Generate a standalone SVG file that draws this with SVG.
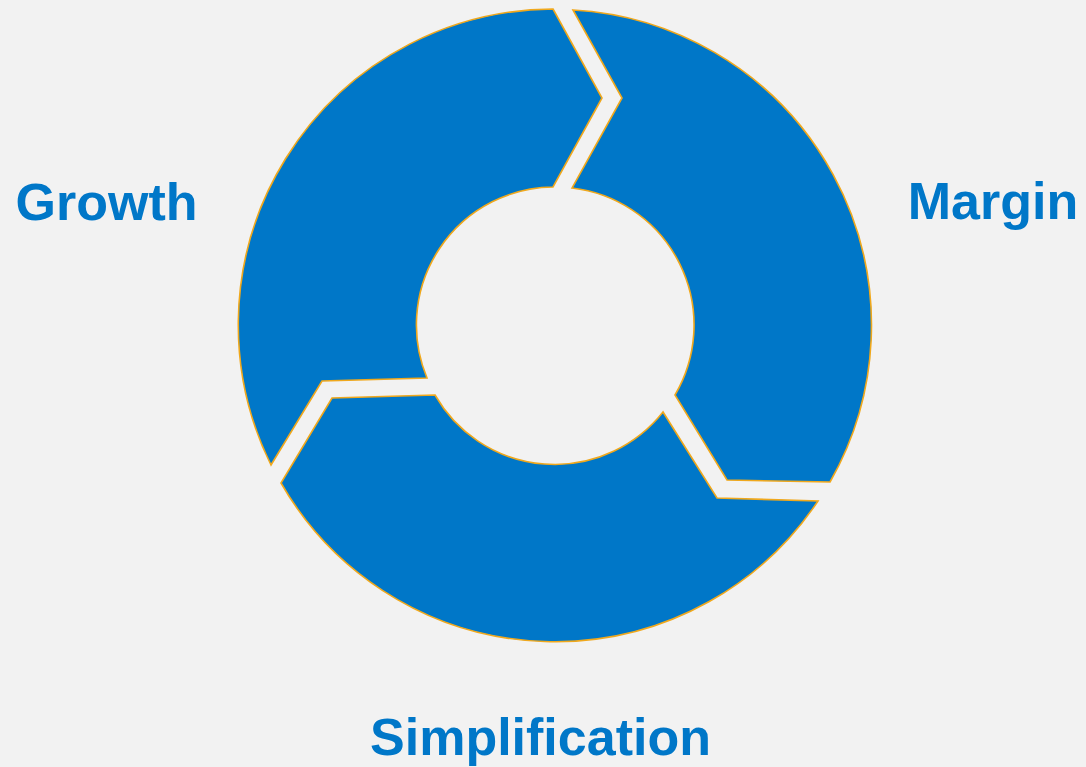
<svg xmlns="http://www.w3.org/2000/svg" width="1086" height="767" viewBox="0 0 1086 767">
<style>
.seg{fill:#0077C8;stroke:#F0A81C;stroke-width:1.6;stroke-linejoin:miter}
.lbl{font-family:"Liberation Sans",Arial,sans-serif;font-weight:bold;font-size:52px;fill:#0077C8;text-anchor:middle}
</style>
<rect width="1086" height="767" fill="#F2F2F2"/>
<g id="growth">
<path class="seg" d="M553,9 L602,98 L553,187 A138,138 0 0 0 427,378 L322,381 L271,465 A316,316 0 0 1 553,9 Z"/>
<text class="lbl" x="106.5" y="220">Growth</text>
</g>
<g id="margin">
<path class="seg" d="M573,10 L622,98 L572,188 A138,138 0 0 1 675,395 L727,480 L830,482 A316,316 0 0 0 573,10 Z"/>
<text class="lbl" x="993" y="219">Margin</text>
</g>
<g id="simplification">
<path class="seg" d="M435,395 L332,398 L281,483 A316,316 0 0 0 818,501 L717,498 L663,412 A138,138 0 0 1 435,395 Z"/>
<text class="lbl" x="540.5" y="755">Simplification</text>
</g>
<g id="connectors"/>
</svg>
